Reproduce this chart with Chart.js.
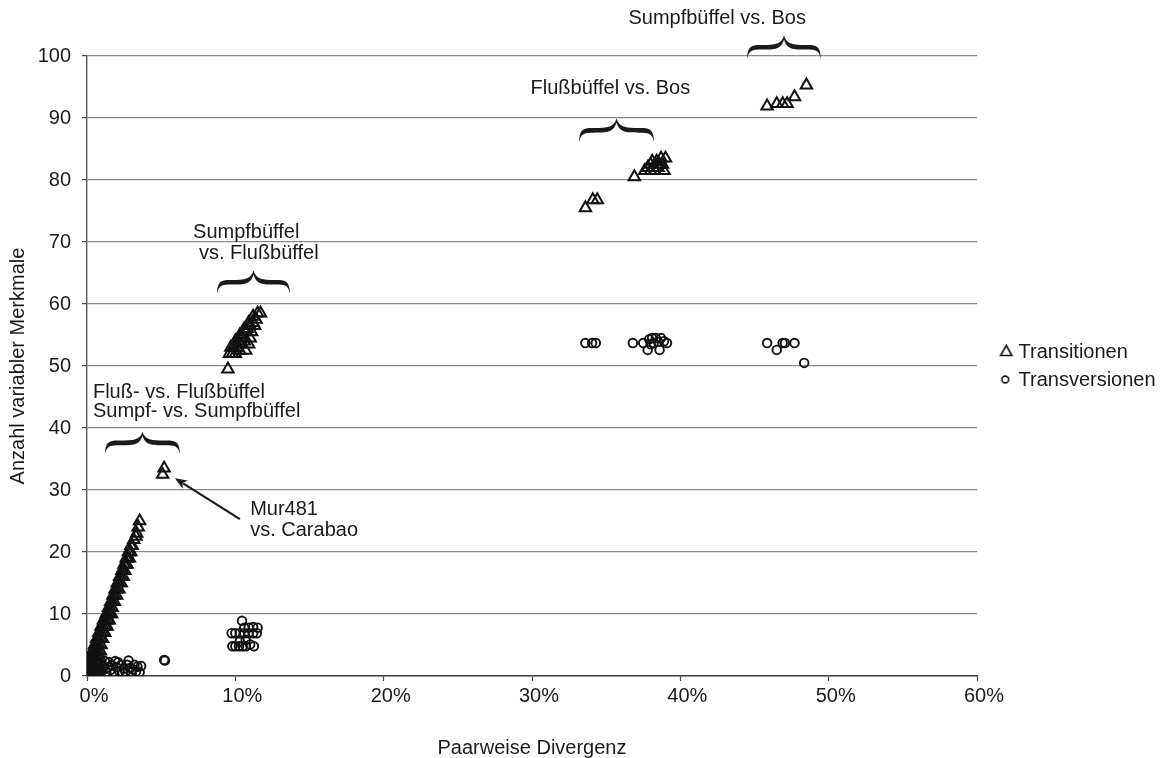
<!DOCTYPE html>
<html>
<head>
<meta charset="utf-8">
<script src="https://cdn.jsdelivr.net/npm/chart.js@4.4.0/dist/chart.umd.min.js"></script>
<style>
html,body{margin:0;padding:0;background:#ffffff;}
#wrap{width:1170px;height:758px;}
</style>
</head>
<body>
<div id="wrap"><canvas id="c" width="1170" height="758"></canvas></div>
<script>
// ---------- data (x = paarweise Divergenz in %, y = Anzahl variabler Merkmale) ----------
const xTickLabels = ['0%', '10%', '20%', '30%', '40%', '50%', '60%'];
const yTickLabels = ['0', '10', '20', '30', '40', '50', '60', '70', '80', '90', '100'];
const seriesNames = ['Transitionen', 'Transversionen'];

// Transitionen
const tsWithin = [
  [0.0,0],[0.1,0],[0.2,0],[0.3,0],[0.45,0],[0.6,0],[0.75,0],
  [0.0,1],[0.1,1],[0.2,1],[0.3,1],[0.4,1],[0.55,1],[0.7,1],[0.85,1],
  [0.1,2],[0.2,2],[0.3,2],[0.4,2],[0.5,2],[0.65,2],[0.8,2],
  [0.2,3],[0.3,3],[0.45,3],[0.55,3],[0.7,3],[0.85,3],
  [0.35,4],[0.5,4],[0.6,4],[0.75,4],[0.9,4],
  [0.5,5],[0.65,5],[0.8,5],[0.95,5],
  [0.65,6],[0.8,6],[0.95,6],[1.05,6],
  [0.8,7],[0.95,7],[1.1,7],[1.2,7],
  [0.95,8],[1.1,8],[1.25,8],[1.35,8],
  [1.1,9],[1.25,9],[1.4,9],[1.5,9],
  [1.3,10],[1.4,10],[1.55,10],[1.65,10],
  [1.45,11],[1.55,11],[1.7,11],
  [1.6,12],[1.7,12],[1.85,12],
  [1.75,13],[1.85,13],[2.0,13],
  [1.9,14],[2.0,14],[2.15,14],
  [2.05,15],[2.15,15],[2.3,15],
  [2.2,16],[2.3,16],[2.45,16],
  [2.35,17],[2.45,17],[2.55,17],
  [2.5,18],[2.6,18],[2.7,18],
  [2.65,19],[2.75,19],[2.85,19],
  [2.8,20],[2.85,20],[2.95,20],
  [2.95,21],[3.05,21],
  [3.15,22],[3.3,22.5],
  [3.35,23],
  [3.45,24],
  [3.55,25]
];
const tsMurCarabao = [[5.1,32.5],[5.2,33.5]];
const tsSumpfFluss = [
  [9.5,49.5],
  [9.6,52],[9.8,52],[10.0,52],[10.3,52.5],[10.7,52.5],
  [9.7,53],[9.9,53],[10.1,53],[10.4,53.5],[10.9,53.5],
  [10.0,54],[10.2,54],[10.4,54.5],[10.6,54],[11.0,54.5],
  [10.3,55],[10.5,55],[10.7,55.5],[11.1,55.5],
  [10.6,56],[10.8,56],[11.0,56.5],[11.3,56.5],
  [10.9,57],[11.2,57],[11.4,57.5],
  [11.2,58],[11.5,58.5],[11.7,58.5]
];
const tsFlussBos = [
  [33.6,75.5],[34.1,76.8],[34.4,76.8],[36.9,80.5],
  [37.6,81.5],[37.8,82],[38.0,81.5],[38.0,82.5],[38.2,82],[38.3,81.5],
  [38.4,83],[38.5,82],[38.6,82.5],[38.7,83.5],[38.8,82.5],[39.0,83.5],
  [38.9,81.5],[38.1,83]
];
const tsSumpfBos = [[45.85,91.9],[46.5,92.3],[46.9,92.3],[47.2,92.3],[47.7,93.4],[48.5,95.3]];

// Transversionen
const tvWithin = [
  [0.05,0.4],[0.2,1.0],[0.3,0.4],[0.4,1.6],[0.5,0.6],[0.6,2.0],[0.7,1.2],[0.8,0.5],
  [0.9,1.8],[1.0,0.8],[1.1,1.5],[1.2,2.4],[1.3,0.6],[1.4,1.4],
  [1.5,2.2],[1.6,1.0],[1.8,0.6],[1.9,2.4],[2.0,1.4],[2.2,0.7],[2.3,1.8],
  [2.5,1.2],[2.6,0.6],[2.8,2.5],[2.9,1.3],[3.0,0.6],[3.2,1.8],[3.3,0.7],
  [3.4,1.5],[3.55,0.6],[3.65,1.6],[2.7,1.8],[3.1,1.1],[2.4,0.5],[1.7,1.7],[2.1,2.2]
];
const tvMurCarabao = [[5.2,2.6],[5.25,2.5]];
const tvSumpfFluss = [
  [10.45,8.9],
  [9.75,6.9],[10.0,6.9],[10.3,6.9],[10.6,6.9],[10.9,6.9],[11.2,6.9],[11.45,6.9],
  [10.6,7.8],[10.9,7.8],[11.2,7.9],[11.5,7.8],
  [9.8,4.8],[10.0,4.8],[10.25,4.8],[10.5,4.8],[10.7,4.8],[11.0,5.1],[11.25,4.8],
  [10.3,5.6],[10.7,5.8]
];
const tvFlussBos = [
  [33.6,53.7],[34.05,53.7],[34.3,53.7],[36.8,53.7],[37.5,53.7],[37.8,52.6],
  [37.9,54.3],[38.1,54.5],[38.2,53.7],[38.35,54.5],[38.5,53.9],[38.6,52.6],
  [38.7,54.5],[38.9,54.0],[39.1,53.7],[38.0,53.5]
];
const tvSumpfBos = [[45.85,53.7],[46.5,52.6],[46.9,53.7],[47.05,53.7],[47.7,53.7],[48.35,50.5]];

// annotations (anchored in data units)
const annotLabels = [
  {text: 'Sumpfbüffel vs. Bos', x: 36.5, y: 106.1},
  {text: 'Flußbüffel vs. Bos', x: 29.9, y: 94.8},
  {text: 'Sumpfbüffel', x: 7.15, y: 71.6},
  {text: 'vs. Flußbüffel', x: 7.55, y: 68.1},
  {text: 'Fluß- vs. Flußbüffel', x: 0.4, y: 45.8},
  {text: 'Sumpf- vs. Sumpfbüffel', x: 0.4, y: 42.6},
  {text: 'Mur481', x: 11.0, y: 26.8},
  {text: 'vs. Carabao', x: 11.0, y: 23.5}
];
const braces = [
  {x0: 1.21, x1: 6.27, yTop: 39.4, yEnd: 35.8},
  {x0: 8.76, x1: 13.69, yTop: 65.4, yEnd: 61.6},
  {x0: 33.17, x1: 38.23, yTop: 89.9, yEnd: 86.1},
  {x0: 44.5, x1: 49.48, yTop: 103.3, yEnd: 99.5}
];
const arrow = {fromX: 10.31, fromY: 25.3, toX: 5.93, toY: 31.9};

// ---------- rendering ----------
const FONT = '"Liberation Sans", Arial, Helvetica, sans-serif';
const TEXT = '#1a1a1a';
Chart.defaults.font.family = FONT;
Chart.defaults.font.size = 20;
Chart.defaults.color = TEXT;

const toPts = arr => arr.map(p => ({x: p[0], y: p[1]}));
const transitionen = [].concat(tsWithin, tsMurCarabao, tsSumpfFluss, tsFlussBos, tsSumpfBos);
const transversionen = [].concat(tvWithin, tvMurCarabao, tvSumpfFluss, tvFlussBos, tvSumpfBos);

function legendMarker(kind) {
  const cv = document.createElement('canvas');
  cv.width = 60; cv.height = 18;
  const g = cv.getContext('2d');
  g.strokeStyle = '#111'; g.lineWidth = 1.6;
  g.beginPath();
  if (kind === 'triangle') {
    const cx = 30 + 9.5, cy = 8;
    g.moveTo(cx, cy - 5.5); g.lineTo(cx + 5.6, cy + 4.5); g.lineTo(cx - 5.6, cy + 4.5); g.closePath();
  } else {
    g.arc(30 + 8.5, 8.5, 3.4, 0, Math.PI * 2);
  }
  g.stroke();
  return cv;
}
const legendImgs = [legendMarker('triangle'), legendMarker('circle')];

// measure legend so plot area ends at 60% where the reference does
const mctx = document.createElement('canvas').getContext('2d');
mctx.font = '20px ' + FONT;
const legendTextW = Math.max(...seriesNames.map(s => mctx.measureText(s).width));
const LEG_PAD = 8, LEG_BOX = 23.5;
const legendW = LEG_PAD + LEG_BOX + 10 + legendTextW + 10;
const padRight = Math.max(0, 1170 - 977 - legendW);

function drawBrace(ctx, xL, xR, yT, yB) {
  const xc = (xL + xR) / 2, w = xR - xL, h = yB - yT;
  const ym = yT + h * 0.5;
  const t = 2.3;
  ctx.beginPath();
  ctx.moveTo(xL, yB);
  ctx.bezierCurveTo(xL + 0.5, ym - t, xL + w * 0.07, ym - t, xL + w * 0.2, ym - t);
  ctx.bezierCurveTo(xc - w * 0.12, ym - t, xc - w * 0.03, ym - t - 1, xc, yT);
  ctx.bezierCurveTo(xc + w * 0.03, ym - t - 1, xc + w * 0.12, ym - t, xR - w * 0.2, ym - t);
  ctx.bezierCurveTo(xR - w * 0.07, ym - t, xR - 0.5, ym - t, xR, yB);
  ctx.bezierCurveTo(xR - 2, ym + t, xR - w * 0.08, ym + t, xR - w * 0.2, ym + t);
  ctx.bezierCurveTo(xc + w * 0.12, ym + t, xc + w * 0.04, ym + t, xc, yT + 4);
  ctx.bezierCurveTo(xc - w * 0.04, ym + t, xc - w * 0.12, ym + t, xL + w * 0.2, ym + t);
  ctx.bezierCurveTo(xL + w * 0.08, ym + t, xL + 2, ym + t, xL, yB);
  ctx.closePath();
  ctx.fill();
}

const annotPlugin = {
  id: 'annot',
  afterDatasetsDraw(chart) {
    const {ctx} = chart;
    const sx = chart.scales.x, sy = chart.scales.y;
    ctx.save();
    ctx.fillStyle = TEXT;
    ctx.strokeStyle = TEXT;
    ctx.font = '20px ' + FONT;
    ctx.textAlign = 'left';
    ctx.textBaseline = 'middle';
    annotLabels.forEach(a => ctx.fillText(a.text, sx.getPixelForValue(a.x), sy.getPixelForValue(a.y)));
    braces.forEach(b => drawBrace(ctx, sx.getPixelForValue(b.x0), sx.getPixelForValue(b.x1),
                                  sy.getPixelForValue(b.yTop), sy.getPixelForValue(b.yEnd)));
    // arrow
    const x1 = sx.getPixelForValue(arrow.fromX), y1 = sy.getPixelForValue(arrow.fromY);
    const x2 = sx.getPixelForValue(arrow.toX), y2 = sy.getPixelForValue(arrow.toY);
    const dx = x2 - x1, dy = y2 - y1, len = Math.hypot(dx, dy);
    const ux = dx / len, uy = dy / len;
    const hl = 12, hw = 4.8;
    ctx.lineWidth = 2.2;
    ctx.beginPath();
    ctx.moveTo(x1, y1);
    ctx.lineTo(x2 - ux * hl * 0.8, y2 - uy * hl * 0.8);
    ctx.stroke();
    ctx.beginPath();
    ctx.moveTo(x2, y2);
    ctx.lineTo(x2 - ux * hl - uy * hw, y2 - uy * hl + ux * hw);
    ctx.lineTo(x2 - ux * hl * 0.75, y2 - uy * hl * 0.75);
    ctx.lineTo(x2 - ux * hl + uy * hw, y2 - uy * hl - ux * hw);
    ctx.closePath();
    ctx.fill();
    ctx.restore();
  }
};

new Chart(document.getElementById('c'), {
  type: 'scatter',
  data: {
    datasets: [
      {
        label: seriesNames[0],
        data: toPts(transitionen),
        pointStyle: 'triangle',
        pointRadius: 6.6,
        pointHoverRadius: 6.6,
        borderColor: '#111111',
        backgroundColor: 'rgba(0,0,0,0)',
        borderWidth: 2
      },
      {
        label: seriesNames[1],
        data: toPts(transversionen),
        pointStyle: 'circle',
        pointRadius: 4.3,
        pointHoverRadius: 4.3,
        borderColor: '#111111',
        backgroundColor: 'rgba(0,0,0,0)',
        borderWidth: 1.9
      }
    ]
  },
  options: {
    responsive: false,
    animation: false,
    devicePixelRatio: 1,
    layout: {padding: {top: 56, right: padRight, bottom: 0, left: 0}},
    plugins: {
      tooltip: {enabled: false},
      legend: {
        position: 'right',
        fullSize: false,
        labels: {
          usePointStyle: true,
          pointStyleWidth: LEG_BOX,
          padding: LEG_PAD,
          color: TEXT,
          font: {size: 20, family: FONT},
          generateLabels: () => seriesNames.map((n, i) => ({
            text: n, pointStyle: legendImgs[i], fillStyle: 'rgba(0,0,0,0)',
            strokeStyle: '#111', lineWidth: 1.5, hidden: false, datasetIndex: i, fontColor: TEXT
          }))
        }
      }
    },
    scales: {
      x: {
        type: 'linear',
        min: 0, max: 60,
        afterFit: s => { s.height = 82; },
        ticks: {
          stepSize: 10,
          padding: 3,
          labelOffset: 7,
          color: TEXT,
          font: {size: 20},
          callback: v => xTickLabels[Math.round(v / 10)]
        },
        grid: {display: true, drawOnChartArea: false, drawTicks: true, tickLength: 5, tickColor: '#444', tickWidth: 1.2},
        border: {display: true, color: '#444', width: 1.4},
        title: {display: true, text: 'Paarweise Divergenz', color: TEXT, font: {size: 20}, padding: {top: 0, bottom: -2}}
      },
      y: {
        type: 'linear',
        min: 0, max: 100,
        afterFit: s => { s.width = 87; },
        ticks: {
          stepSize: 10,
          padding: 11,
          color: TEXT,
          font: {size: 20},
          callback: v => yTickLabels[Math.round(v / 10)]
        },
        grid: {color: '#8a8a8a', lineWidth: 1.2, tickLength: 5, tickColor: '#444', tickWidth: 1.2},
        border: {display: true, color: '#555', width: 1.4},
        title: {display: true, text: 'Anzahl variabler Merkmale', color: TEXT, font: {size: 20}, padding: {top: 6, bottom: 0}}
      }
    }
  },
  plugins: [annotPlugin]
});
</script>
</body>
</html>
